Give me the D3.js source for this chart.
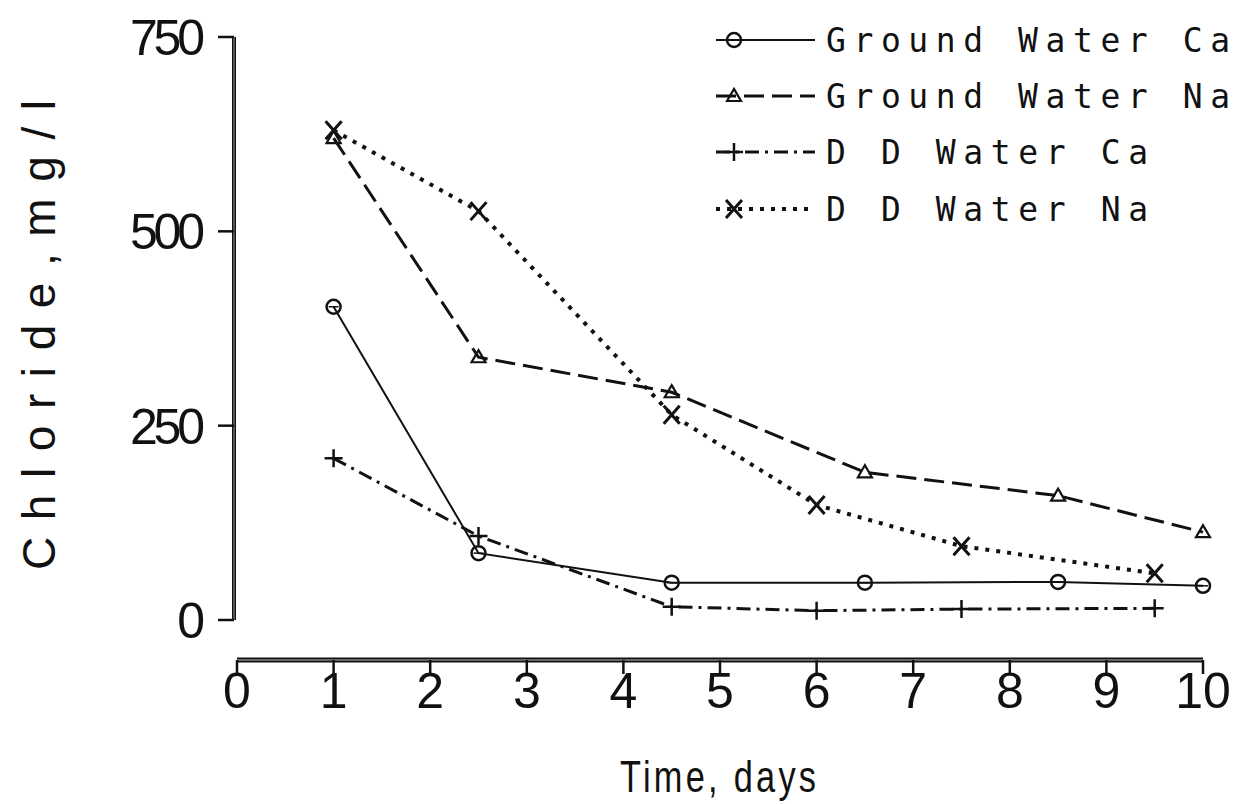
<!DOCTYPE html>
<html><head><meta charset="utf-8">
<script src="https://cdn.jsdelivr.net/npm/d3@7"></script>
<style>body{margin:0;background:#fff}</style>
</head><body>
<svg id="c" width="1236" height="804"></svg>
<script>
const xTicks = [0,1,2,3,4,5,6,7,8,9,10];
const yTicks = [0,250,500,750];
const gwDays = [1,2.5,4.5,6.5,8.5,10];
const ddDays = [1,2.5,4.5,6,7.5,9.5];
const gwCa = [403,86,48,48,49,44];
const gwNa = [620,338,293,190,160,113];
const ddCa = [208,108,17,12,14,15];
const ddNa = [630,526,264,148,95,60];
const seriesNames = ["Ground Water Ca","Ground Water Na","D D Water Ca","D D Water Na"];

const series = [
  {name:seriesNames[0], x:gwDays, y:gwCa, dash:null, w:2, m:"circle"},
  {name:seriesNames[1], x:gwDays, y:gwNa, dash:"20,8", w:3, m:"tri"},
  {name:seriesNames[2], x:ddDays, y:ddCa, dash:"14,6,3,6", w:3, m:"plus"},
  {name:seriesNames[3], x:ddDays, y:ddNa, dash:"4,7", w:4, m:"x"}
];

const svg = d3.select("#c");
const x = d3.scaleLinear().domain([0,10]).range([237,1203]);
const y = d3.scaleLinear().domain([0,750]).range([620,37]);
const ink = "#111";

// Y axis
const yAxisX = 234;
svg.append("line").attr("x1",yAxisX).attr("x2",yAxisX).attr("y1",y(750)).attr("y2",y(0))
  .attr("stroke",ink).attr("stroke-width",4);
svg.append("line").attr("x1",yAxisX).attr("x2",yAxisX).attr("y1",y(750)).attr("y2",y(0))
  .attr("stroke","#999").attr("stroke-width",1);
svg.selectAll(".yt").data(yTicks).join("line")
  .attr("x1",yAxisX-16).attr("x2",yAxisX).attr("y1",d=>y(d)).attr("y2",d=>y(d))
  .attr("stroke",ink).attr("stroke-width",2.5);
svg.selectAll(".yl").data(yTicks).join("text")
  .attr("x",205).attr("y",d=>y(d)+18).attr("text-anchor","end")
  .attr("font-family","Liberation Sans Narrow, Liberation Sans, sans-serif")
  .attr("font-size",50).attr("fill",ink)
  .each(function(d){ const s=String(d); d3.select(this).text(s); if(s.length>1) d3.select(this).attr("textLength",75).attr("lengthAdjust","spacing"); });

// X axis
const xAxisY = 660;
svg.append("line").attr("x1",x(0)).attr("x2",x(10)).attr("y1",xAxisY).attr("y2",xAxisY)
  .attr("stroke",ink).attr("stroke-width",5);
svg.append("line").attr("x1",x(0)).attr("x2",x(10)).attr("y1",xAxisY).attr("y2",xAxisY)
  .attr("stroke","#bbb").attr("stroke-width",1.2);
svg.selectAll(".xt").data(xTicks).join("line")
  .attr("x1",d=>x(d)).attr("x2",d=>x(d)).attr("y1",xAxisY).attr("y2",xAxisY+14)
  .attr("stroke",ink).attr("stroke-width",2.5);
svg.selectAll(".xl").data(xTicks).join("text")
  .attr("x",d=>x(d)).attr("y",708).attr("text-anchor","middle")
  .attr("font-family","Liberation Sans Narrow, Liberation Sans, sans-serif")
  .attr("font-size",50).attr("fill",ink).text(d=>d);

// Axis titles
svg.append("text").attr("transform","translate(620,792) scale(0.78,1)")
  .attr("font-family","Liberation Sans Narrow, Liberation Sans, sans-serif")
  .attr("font-size",44).attr("fill",ink)
  .attr("textLength",196/0.78).attr("lengthAdjust","spacing").text("Time, days");
svg.append("text").attr("transform","translate(55,335) rotate(-90)").attr("text-anchor","middle")
  .attr("font-family","Liberation Sans Narrow, Liberation Sans, sans-serif")
  .attr("font-size",46).attr("fill",ink)
  .attr("textLength",470).attr("lengthAdjust","spacing").text("Chloride,mg/l");

// markers
function marker(g, type, cx, cy){
  const s = g.append("g").attr("transform",`translate(${cx},${cy})`)
    .attr("fill","none").attr("stroke",ink).attr("stroke-width",2.5);
  if(type==="circle"){
    s.append("circle").attr("r",7);
    s.append("line").attr("x1",-5).attr("x2",5).attr("y1",0).attr("y2",0).attr("stroke-width",1.5);
  } else if(type==="tri"){
    s.append("path").attr("d","M-7,5 L0,-7 L7,5 Z").attr("stroke-width",2.2);
  } else if(type==="plus"){
    s.append("path").attr("d","M-9,0 H9 M0,-9 V9");
  } else if(type==="x"){
    s.append("path").attr("d","M-8,-9 L8,9 M8,-9 L-8,9").attr("stroke-width",3);
  }
}

const line = d3.line().x(d=>x(d[0])).y(d=>y(d[1]));
series.forEach(s=>{
  const pts = s.x.map((v,i)=>[v,s.y[i]]);
  svg.append("path").attr("d",line(pts)).attr("fill","none").attr("stroke",ink)
    .attr("stroke-width",s.w).attr("stroke-dasharray",s.dash);
  pts.forEach(p=>marker(svg, s.m, x(p[0]), y(p[1])));
});

// legend
const legY = [40,96,152,209];
const legWidths = [404,404,322,322];
series.forEach((s,i)=>{
  const yy = legY[i];
  svg.append("line").attr("x1",716).attr("x2",815).attr("y1",yy).attr("y2",yy)
    .attr("stroke",ink).attr("stroke-width",s.w).attr("stroke-dasharray",s.dash);
  marker(svg, s.m, 734, yy);
  svg.append("text").attr("x",826).attr("y",yy+12)
    .attr("font-family","DejaVu Sans Mono, Liberation Mono, monospace")
    .attr("font-size",33).attr("fill",ink)
    .attr("textLength",legWidths[i]).attr("lengthAdjust","spacing").text(s.name);
});
</script>
</body></html>
